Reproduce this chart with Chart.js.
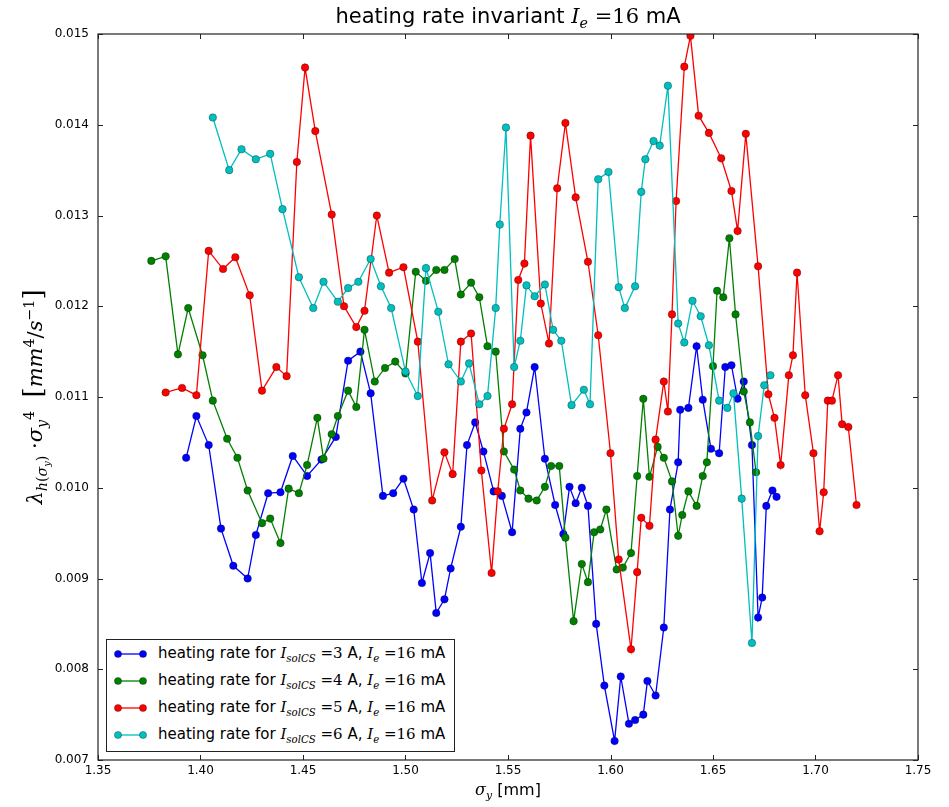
<!DOCTYPE html>
<html>
<head>
<meta charset="utf-8">
<script src="https://cdn.jsdelivr.net/npm/chart.js@4.4.0/dist/chart.umd.min.js"></script>
<style>
    html, body { margin: 0; padding: 0; background: #fff; }
    #wrap { position: relative; width: 949px; height: 807px; font-family: "DejaVu Sans", sans-serif; color: #000; }
    #chart { position: absolute; left: 0; top: 0; }
    .m { font-family: "DejaVu Serif", serif; font-style: italic; }
    .n { font-family: "DejaVu Serif", serif; }
    sub, sup { font-size: 68%; line-height: 0; }
    sub { vertical-align: -0.35em; }
    sup { vertical-align: 0.55em; }
    #title { position: absolute; left: 98px; width: 820px; top: 4px; text-align: center; font-size: 21px; white-space: nowrap; }
    #xlab { position: absolute; left: 98px; width: 820px; top: 780px; text-align: center; font-size: 16px; white-space: nowrap; }
    #ylab { position: absolute; left: -267px; top: 382px; width: 600px; height: 30px; line-height: 30px; text-align: center;
            transform: rotate(-90deg); font-size: 21px; white-space: nowrap; }
    #ylab .br { font-family: "DejaVu Serif", serif; font-size: 26px; }
    #legend { position: absolute; left: 106px; top: 639px; width: 347px; height: 111px; border: 1px solid #222; background: #fff; }
    #legend .row { position: relative; height: 27px; line-height: 27px; font-size: 15px; white-space: nowrap; }
    #legend svg { position: absolute; left: 7px; top: 8px; }
    #legend .txt { position: absolute; left: 51px; top: 0; }
</style>
</head>
<body>
<div id="wrap">
    <canvas id="chart" width="949" height="807"></canvas>
    <div id="title">heating rate invariant <span class="m">I</span><sub class="m">e</sub> <span class="n">=16</span> mA</div>
    <div id="xlab"><span class="m">σ</span><sub class="m">y</sub> [mm]</div>
    <div id="ylab"><span class="m">λ</span><sub><span class="m">h</span><span class="n">(</span><span class="m">σ</span><sub class="m">y</sub><span class="n">)</span></sub> <span class="n">·</span><span class="m">σ</span><sub class="m">y</sub><sup class="n">4</sup>&nbsp;&nbsp;<span class="br">[</span><span class="m">mm</span><sup class="n">4</sup><span class="n">/</span><span class="m">s</span><sup class="n">−1</sup><span class="br">]</span></div>
    <div id="legend"></div>
</div>
<script>
// sigma_y [mm] and heating rate invariant for each solenoid current
const sigma3 = [1.393,1.398,1.404,1.410,1.416,1.423,1.427,1.433,1.439,1.445,1.452,1.459,1.466,1.472,1.478,1.483,1.489,1.494,1.499,1.504,1.508,1.512,1.515,1.519,1.522,1.527,1.530,1.534,1.538,1.543,1.547,1.552,1.556,1.559,1.563,1.568,1.573,1.577,1.580,1.583,1.586,1.589,1.593,1.597,1.602,1.605,1.609,1.612,1.616,1.618,1.622,1.626,1.629,1.633,1.634,1.638,1.642,1.645,1.649,1.653,1.656,1.659,1.662,1.665,1.669,1.672,1.674,1.676,1.679,1.681];
const rate3 = [0.01033,0.01079,0.01047,0.00955,0.00914,0.00900,0.00948,0.00994,0.00995,0.01035,0.01013,0.01031,0.01056,0.01140,0.01150,0.01104,0.00991,0.00994,0.01010,0.00976,0.00895,0.00928,0.00862,0.00877,0.00911,0.00957,0.01047,0.01072,0.01040,0.00996,0.00991,0.00951,0.01065,0.01083,0.01133,0.01032,0.00981,0.00949,0.01001,0.00983,0.01000,0.00980,0.00850,0.00782,0.00721,0.00792,0.00740,0.00744,0.00750,0.00787,0.00771,0.00846,0.00976,0.01028,0.01086,0.01088,0.01156,0.01097,0.01043,0.01038,0.01133,0.01135,0.01098,0.01117,0.01047,0.00857,0.00879,0.00980,0.00997,0.00990];

const sigma4 = [1.376,1.383,1.389,1.394,1.401,1.406,1.413,1.418,1.423,1.430,1.434,1.439,1.443,1.448,1.452,1.457,1.460,1.464,1.467,1.472,1.476,1.480,1.485,1.490,1.495,1.500,1.505,1.510,1.515,1.519,1.524,1.527,1.532,1.536,1.540,1.544,1.548,1.553,1.556,1.560,1.564,1.568,1.571,1.575,1.578,1.582,1.586,1.589,1.592,1.595,1.598,1.603,1.606,1.610,1.613,1.616,1.619,1.623,1.626,1.630,1.633,1.635,1.638,1.642,1.645,1.647,1.650,1.652,1.655,1.658,1.661,1.665,1.668,1.671];
const rate4 = [0.01250,0.01255,0.01147,0.01198,0.01146,0.01096,0.01054,0.01033,0.00997,0.00961,0.00966,0.00939,0.00999,0.00994,0.01025,0.01077,0.01032,0.01059,0.01079,0.01107,0.01089,0.01174,0.01117,0.01132,0.01139,0.01126,0.01238,0.01228,0.01240,0.01240,0.01252,0.01213,0.01226,0.01210,0.01156,0.01150,0.01040,0.01020,0.00997,0.00988,0.00986,0.01001,0.01024,0.01024,0.00945,0.00853,0.00916,0.00896,0.00951,0.00954,0.00976,0.00910,0.00912,0.00928,0.01013,0.01098,0.01012,0.01045,0.01033,0.01007,0.00947,0.00970,0.00996,0.00980,0.01013,0.01028,0.01134,0.01217,0.01210,0.01275,0.01191,0.01106,0.01072,0.01017];

const sigma5 = [1.383,1.391,1.398,1.404,1.411,1.417,1.424,1.430,1.437,1.442,1.447,1.451,1.456,1.464,1.470,1.476,1.480,1.486,1.492,1.499,1.506,1.513,1.519,1.523,1.527,1.532,1.537,1.542,1.545,1.548,1.552,1.555,1.558,1.561,1.566,1.570,1.574,1.578,1.583,1.589,1.594,1.600,1.604,1.610,1.613,1.615,1.619,1.622,1.626,1.628,1.630,1.632,1.636,1.639,1.643,1.648,1.654,1.659,1.662,1.666,1.672,1.677,1.680,1.683,1.687,1.689,1.691,1.695,1.699,1.702,1.704,1.706,1.708,1.711,1.713,1.716,1.720];
const rate5 = [0.01105,0.01110,0.01102,0.01261,0.01241,0.01254,0.01212,0.01107,0.01133,0.01123,0.01359,0.01463,0.01393,0.01301,0.01200,0.01177,0.01195,0.01300,0.01237,0.01243,0.01161,0.00986,0.01039,0.01015,0.01161,0.01170,0.01019,0.00906,0.00996,0.01065,0.01092,0.01229,0.01247,0.01388,0.01203,0.01159,0.01330,0.01402,0.01320,0.01249,0.01168,0.01038,0.00921,0.00822,0.00907,0.00967,0.00958,0.01053,0.01117,0.01084,0.01191,0.01316,0.01464,0.01498,0.01410,0.01391,0.01363,0.01327,0.01283,0.01390,0.01244,0.01103,0.01077,0.01025,0.01124,0.01146,0.01237,0.01102,0.01038,0.00952,0.00995,0.01096,0.01096,0.01124,0.01070,0.01067,0.00981];

const sigma6 = [1.406,1.414,1.420,1.427,1.434,1.440,1.448,1.455,1.460,1.467,1.472,1.477,1.483,1.488,1.493,1.500,1.506,1.510,1.516,1.521,1.527,1.531,1.536,1.540,1.544,1.546,1.549,1.553,1.556,1.559,1.563,1.568,1.572,1.576,1.581,1.587,1.590,1.594,1.599,1.604,1.607,1.612,1.615,1.617,1.621,1.624,1.628,1.633,1.636,1.640,1.644,1.648,1.653,1.657,1.660,1.664,1.669,1.672,1.675,1.678];
const rate6 = [0.01408,0.01350,0.01373,0.01362,0.01368,0.01307,0.01232,0.01198,0.01227,0.01205,0.01220,0.01227,0.01252,0.01222,0.01198,0.01128,0.01101,0.01242,0.01194,0.01136,0.01117,0.01137,0.01092,0.01101,0.01198,0.01290,0.01397,0.01133,0.01162,0.01223,0.01211,0.01224,0.01174,0.01162,0.01091,0.01108,0.01092,0.01340,0.01348,0.01221,0.01198,0.01222,0.01326,0.01362,0.01382,0.01377,0.01443,0.01181,0.01160,0.01206,0.01189,0.01157,0.01096,0.01088,0.01104,0.00988,0.00829,0.01057,0.01113,0.01124];

const solCurrents = [3, 4, 5, 6];
const seriesColors = ['#0000ff', '#008000', '#ff0000', '#00bfbf'];
const xTicks = [1.35, 1.40, 1.45, 1.50, 1.55, 1.60, 1.65, 1.70, 1.75];
const yTicks = [0.007, 0.008, 0.009, 0.010, 0.011, 0.012, 0.013, 0.014, 0.015];

const allSigma = [sigma3, sigma4, sigma5, sigma6];
const allRate = [rate3, rate4, rate5, rate6];

function makeSet(i) {
    const col = seriesColors[i];
    return {
        label: 'heating rate for I_solCS=' + solCurrents[i] + ' A, I_e=16 mA',
        data: allSigma[i].map((x, k) => ({ x: x, y: allRate[i][k] })),
        showLine: true,
        borderColor: col,
        backgroundColor: col,
        borderWidth: 1.3,
        pointRadius: 3.8,
        pointHoverRadius: 3.8,
        pointBorderColor: 'rgba(0,0,0,0.5)',
        pointBorderWidth: 0.6,
        tension: 0,
        clip: 0,
        order: 3 - i
    };
}

// frame on four sides and matplotlib style ticks pointing inwards
const frameTicks = {
    id: 'frameTicks',
    afterDatasetsDraw(chart) {
        const ctx = chart.ctx, a = chart.chartArea;
        const xs = chart.scales.x, ys = chart.scales.y;
        const len = 5;
        ctx.save();
        ctx.strokeStyle = '#222';
        ctx.lineWidth = 1.2;
        ctx.strokeRect(a.left, a.top, a.right - a.left, a.bottom - a.top);
        ctx.lineWidth = 1;
        ctx.beginPath();
        xs.ticks.forEach(t => {
            const px = Math.round(xs.getPixelForValue(t.value)) + 0.5;
            ctx.moveTo(px, a.bottom); ctx.lineTo(px, a.bottom - len);
            ctx.moveTo(px, a.top); ctx.lineTo(px, a.top + len);
        });
        ys.ticks.forEach(t => {
            const py = Math.round(ys.getPixelForValue(t.value)) + 0.5;
            ctx.moveTo(a.left, py); ctx.lineTo(a.left + len, py);
            ctx.moveTo(a.right, py); ctx.lineTo(a.right - len, py);
        });
        ctx.stroke();
        ctx.restore();
    }
};

const tickFont = { family: 'DejaVu Sans', size: 12 };

new Chart(document.getElementById('chart'), {
    type: 'scatter',
    data: { datasets: [0, 1, 2, 3].map(makeSet) },
    options: {
        responsive: false,
        devicePixelRatio: 1,
        animation: false,
        layout: { padding: { left: 0, top: 34, right: 31, bottom: 0 } },
        plugins: { legend: { display: false }, tooltip: { enabled: false }, title: { display: false } },
        scales: {
            x: {
                type: 'linear', min: 1.35, max: 1.75,
                afterBuildTicks: s => { s.ticks = xTicks.map(v => ({ value: v })); },
                afterFit: s => { s.height = 47; },
                ticks: { callback: v => v.toFixed(2), font: tickFont, color: '#000', padding: 4, maxRotation: 0, autoSkip: false },
                grid: { display: false, drawTicks: false },
                border: { display: false }
            },
            y: {
                type: 'linear', min: 0.007, max: 0.015,
                afterBuildTicks: s => { s.ticks = yTicks.map(v => ({ value: v })); },
                afterFit: s => { s.width = 98; },
                ticks: { callback: v => v.toFixed(3), font: tickFont, color: '#000', padding: 9, autoSkip: false },
                grid: { display: false, drawTicks: false },
                border: { display: false }
            }
        }
    },
    plugins: [frameTicks]
});

// legend box in the lower left corner of the axes
const legendEl = document.getElementById('legend');
solCurrents.forEach((c, i) => {
    const col = seriesColors[i];
    const row = document.createElement('div');
    row.className = 'row';
    row.innerHTML =
        '<svg width="34" height="12"><line x1="4" y1="6" x2="29" y2="6" stroke="' + col + '" stroke-width="1.3"/>' +
        '<circle cx="4" cy="6" r="3.6" fill="' + col + '" stroke="rgba(0,0,0,0.5)" stroke-width="0.6"/>' +
        '<circle cx="29" cy="6" r="3.6" fill="' + col + '" stroke="rgba(0,0,0,0.5)" stroke-width="0.6"/></svg>' +
        '<span class="txt">heating rate for <span class="m">I</span><sub class="m">solCS</sub><span class="n"> =' + c +
        '</span> A, <span class="m">I</span><sub class="m">e</sub> <span class="n">=16</span> mA</span>';
    legendEl.appendChild(row);
});
</script>
</body>
</html>
